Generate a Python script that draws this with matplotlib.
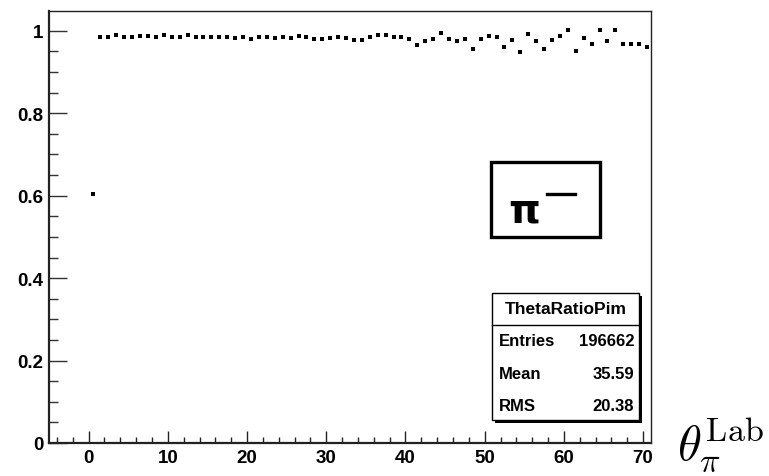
import numpy as np
import matplotlib
matplotlib.use('Agg')
import matplotlib.pyplot as plt
from matplotlib.patches import Rectangle
from matplotlib.ticker import MultipleLocator

# ratio per 1-degree bin of lab theta (pi-)
theta_centers = [0.5] + [i + 0.5 for i in range(1, 71)]
ratio = [0.604,
         0.985, 0.985, 0.989, 0.985, 0.985, 0.987, 0.987, 0.986, 0.989, 0.986,
         0.984, 0.989, 0.985, 0.985, 0.985, 0.985, 0.985, 0.983, 0.984, 0.981,
         0.985, 0.985, 0.983, 0.984, 0.983, 0.988, 0.985, 0.981, 0.980, 0.983,
         0.986, 0.983, 0.977, 0.978, 0.985, 0.989, 0.990, 0.985, 0.985, 0.979,
         0.965, 0.975, 0.980, 0.994, 0.980, 0.975, 0.979, 0.955, 0.979, 0.988,
         0.985, 0.960, 0.977, 0.949, 0.991, 0.975, 0.956, 0.977, 0.987, 1.001,
         0.951, 0.983, 0.969, 1.001, 0.975, 1.001, 0.968, 0.967, 0.969, 0.960]

hist_name = 'ThetaRatioPim'
stat_names = ['Entries', 'Mean', 'RMS']
stat_values = ['196662', '35.59', '20.38']

W, H = 769, 477
plt.rcParams['font.family'] = ['Liberation Sans', 'DejaVu Sans']
plt.rcParams['font.weight'] = 'bold'
plt.rcParams['mathtext.fontset'] = 'cm'

fig = plt.figure(figsize=(W / 100, H / 100), dpi=100)


def fx(px):
    return px / W


def fy(py):
    return 1 - py / H


ax = fig.add_axes([fx(49), fy(444), fx(651) - fx(49), fy(12) - fy(444)])
ax.plot(theta_centers, ratio, ls='none', marker='s', ms=3.1, color='black', mew=0)
ax.set_xlim(-5, 71)
ax.set_ylim(0, 1.048)

ax.xaxis.set_major_locator(MultipleLocator(10))
ax.xaxis.set_minor_locator(MultipleLocator(2))
ax.yaxis.set_major_locator(MultipleLocator(0.2))
ax.yaxis.set_minor_locator(MultipleLocator(0.05))
ax.set_yticks([0, 0.2, 0.4, 0.6, 0.8, 1])
ax.set_yticklabels(['0', '0.2', '0.4', '0.6', '0.8', '1'])
ax.tick_params(axis='y', which='major', direction='in', length=13, width=1, pad=4,
               labelsize=13.5, color='#333333')
ax.tick_params(axis='y', which='minor', direction='in', length=6.5, width=1, color='#333333')
ax.tick_params(axis='x', which='major', direction='in', length=9, width=1, pad=4,
               labelsize=13.5, color='#222222')
ax.tick_params(axis='x', which='minor', direction='in', length=4.5, width=1, color='#222222')
for lab in ax.get_xticklabels() + ax.get_yticklabels():
    lab.set_fontweight('bold')

for side in ['left', 'bottom']:
    ax.spines[side].set_linewidth(1.6)
    ax.spines[side].set_color('#222222')
for side in ['top', 'right']:
    ax.spines[side].set_linewidth(1.0)
    ax.spines[side].set_color('#222222')

# particle label box
fig.add_artist(Rectangle((fx(491), fy(238)), fx(600) - fx(491), fy(163) - fy(238),
                         transform=fig.transFigure, fill=True, facecolor='white',
                         edgecolor='black', lw=2.4, zorder=5))
fig.text(fx(524), fy(212), '\u03c0', fontsize=29, fontweight='bold', ha='center',
         va='center', zorder=6, family=['DejaVu Sans'])
fig.add_artist(plt.Line2D([fx(547), fx(575)], [fy(195), fy(195)], transform=fig.transFigure,
                          color='black', lw=2.4, zorder=6))

# stats box with shadow
bx0, bx1, by0, by1 = 492, 639, 294, 421
fig.add_artist(Rectangle((fx(bx0 + 3), fy(by1 + 3)), fx(bx1) - fx(bx0), fy(by0) - fy(by1),
                         transform=fig.transFigure, facecolor='black', edgecolor='black',
                         lw=0, zorder=7))
fig.add_artist(Rectangle((fx(bx0), fy(by1)), fx(bx1) - fx(bx0), fy(by0) - fy(by1),
                         transform=fig.transFigure, facecolor='white', edgecolor='black',
                         lw=1.0, zorder=8))
fig.add_artist(plt.Line2D([fx(bx0), fx(bx1)], [fy(326), fy(326)], transform=fig.transFigure,
                          color='black', lw=1.0, zorder=9))
fig.text(fx((bx0 + bx1) / 2), fy(310), hist_name, fontsize=12.5, fontweight='bold',
         ha='center', va='center', zorder=10)
for i, (name, val) in enumerate(zip(stat_names, stat_values)):
    yy = fy(342 + i * 32.5)
    fig.text(fx(499), yy, name, fontsize=12, fontweight='bold', ha='left', va='center', zorder=10)
    fig.text(fx(634), yy, val, fontsize=12, fontweight='bold', ha='right', va='center', zorder=10)

# x axis title
fig.text(fx(677), fy(460), r'$\theta_{\pi}^{\mathrm{Lab}}$', fontsize=35, ha='left',
         va='baseline')

fig.savefig('out.png', dpi=100, facecolor='white')
